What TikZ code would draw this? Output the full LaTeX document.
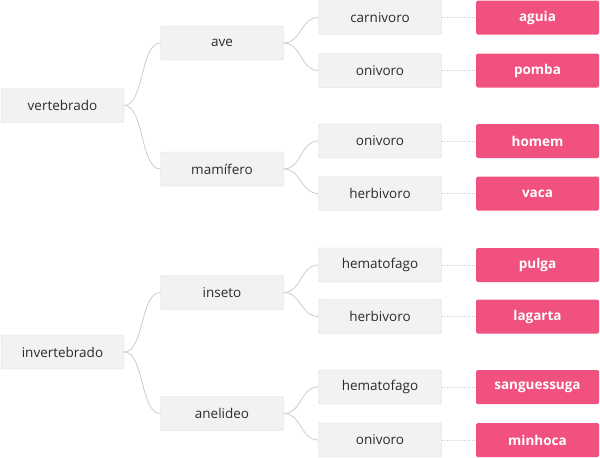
\documentclass[tikz,border=0pt]{standalone}
\usepackage{fontspec}
\setmainfont{Open Sans}
\usetikzlibrary{positioning}
\usepackage{xcolor}
\definecolor{boxgray}{HTML}{F2F2F2}
\definecolor{boxline}{HTML}{DADADA}
\definecolor{txtgray}{HTML}{2B2B2B}
\definecolor{linkgray}{HTML}{CCCCCC}
\definecolor{leafpink}{HTML}{F0517F}

\begin{document}
\begin{tikzpicture}[x=1pt,y=-1pt,
        cat/.style={draw=boxline,fill=boxgray,rounded corners=1.5pt,minimum width=123pt,minimum height=34pt,inner sep=0pt,font=\fontsize{13.5}{15}\selectfont,text=txtgray},
        leaf/.style={fill=leafpink,rounded corners=1.5pt,minimum width=123pt,minimum height=34pt,inner sep=0pt,font=\fontsize{13.5}{15}\selectfont\bfseries,text=white},
        link/.style={draw=linkgray,line width=0.8pt},
        dots/.style={draw=linkgray,dash pattern=on 1pt off 1.5pt,line width=0.8pt}]
        \useasboundingbox (0,0) rectangle (600,458);
        % level 0
        \node[cat] (vert) at (62.5,105.5) {vertebrado};
        \node[cat] (invert) at (62.5,352) {invertebrado};
        % level 1
        \node[cat] (ave) at (222,43) {ave};
        \node[cat] (mamif) at (222,169) {mamífero};
        \node[cat] (inseto) at (222,292.5) {inseto};
        \node[cat] (anel) at (222,413.5) {anelideo};
        % level 2
        \node[cat] (carn) at (380,17.5) {carnivoro};
        \node[cat] (oniA) at (380,70.5) {onivoro};
        \node[cat] (oniB) at (380,141) {onivoro};
        \node[cat] (herbA) at (380,193.5) {herbivoro};
        \node[cat] (hemA) at (380,265) {hematofago};
        \node[cat] (herbB) at (380,316.5) {herbivoro};
        \node[cat] (hemB) at (380,387) {hematofago};
        \node[cat] (oniC) at (380,440) {onivoro};
        % animals
        \node[leaf] (aguia) at (537.5,17.5) {aguia};
        \node[leaf] (pomba) at (537.5,70.5) {pomba};
        \node[leaf] (homem) at (537.5,141) {homem};
        \node[leaf] (vaca) at (537.5,193.5) {vaca};
        \node[leaf] (pulga) at (537.5,265) {pulga};
        \node[leaf] (lagarta) at (537.5,316.5) {lagarta};
        \node[leaf] (sangue) at (537.5,387) {sanguessuga};
        \node[leaf] (minhoca) at (537.5,440) {minhoca};

        \draw[link] (vert.east) .. controls +(20,0) and +(-20,0) .. (ave.west);
        \draw[link] (vert.east) .. controls +(20,0) and +(-20,0) .. (mamif.west);
        \draw[link] (invert.east) .. controls +(20,0) and +(-20,0) .. (inseto.west);
        \draw[link] (invert.east) .. controls +(20,0) and +(-20,0) .. (anel.west);
        \draw[link] (ave.east) .. controls +(18,0) and +(-18,0) .. (carn.west);
        \draw[link] (ave.east) .. controls +(18,0) and +(-18,0) .. (oniA.west);
        \draw[link] (mamif.east) .. controls +(18,0) and +(-18,0) .. (oniB.west);
        \draw[link] (mamif.east) .. controls +(18,0) and +(-18,0) .. (herbA.west);
        \draw[link] (inseto.east) .. controls +(18,0) and +(-18,0) .. (hemA.west);
        \draw[link] (inseto.east) .. controls +(18,0) and +(-18,0) .. (herbB.west);
        \draw[link] (anel.east) .. controls +(18,0) and +(-18,0) .. (hemB.west);
        \draw[link] (anel.east) .. controls +(18,0) and +(-18,0) .. (oniC.west);

        \draw[dots] (carn) -- (aguia);
        \draw[dots] (oniA) -- (pomba);
        \draw[dots] (oniB) -- (homem);
        \draw[dots] (herbA) -- (vaca);
        \draw[dots] (hemA) -- (pulga);
        \draw[dots] (herbB) -- (lagarta);
        \draw[dots] (hemB) -- (sangue);
        \draw[dots] (oniC) -- (minhoca);
\end{tikzpicture}
\end{document}
